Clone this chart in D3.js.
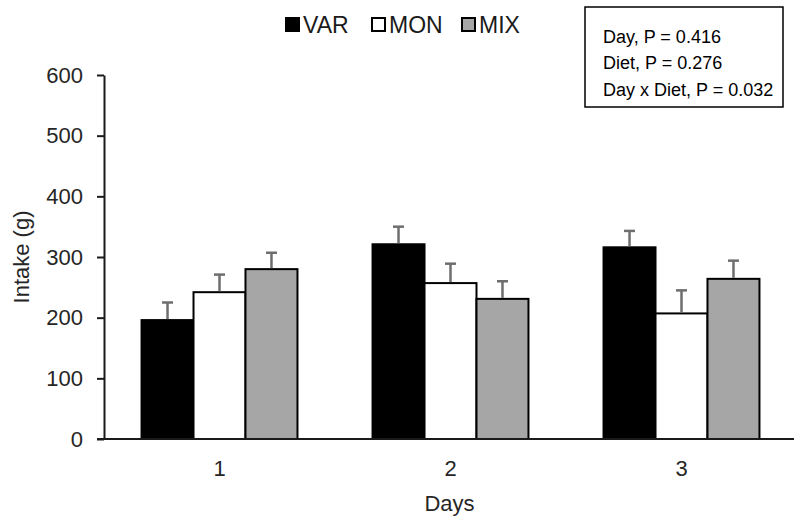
<!DOCTYPE html>
<html>
<head>
<meta charset="utf-8">
<script src="https://cdn.jsdelivr.net/npm/d3@7"></script>
<style>
  html, body { margin: 0; padding: 0; background: #fff; }
  svg { display: block; }
  text { font-family: "Liberation Sans", Arial, sans-serif; }
</style>
</head>
<body>
<svg id="chart" width="794" height="523"></svg>
<script>
// ---- data ----
const days = ["1", "2", "3"];
const series = ["VAR", "MON", "MIX"];
const VAR = [196, 321, 316];
const MON = [242, 257, 207];
const MIX = [280, 231, 264];
const VAR_err = [29, 29, 27];
const MON_err = [29, 32, 38];
const MIX_err = [27, 29, 30];
const yTicks = [0, 100, 200, 300, 400, 500, 600];
const stats = ["Day, P = 0.416", "Diet, P = 0.276", "Day x Diet, P = 0.032"];
const xTitle = "Days";
const yTitle = "Intake (g)";

const values = { VAR, MON, MIX };
const errors = { VAR: VAR_err, MON: MON_err, MIX: MIX_err };
const fills = { VAR: "#000000", MON: "#ffffff", MIX: "#a6a6a6" };

const svg = d3.select("#chart");
const mLeft = 104, mRight = 797, mTop = 75, mBottom = 439;

const x0 = d3.scaleBand().domain(days).range([mLeft, mRight])
  .paddingInner(0.325).paddingOuter(0.1625);
const x1 = d3.scaleBand().domain(series).range([0, x0.bandwidth()]).padding(0);
const y = d3.scaleLinear().domain([0, 600]).range([mBottom, mTop]);

// bars
const rows = [];
days.forEach((d, i) => series.forEach(s => rows.push({ day: d, s, v: values[s][i], e: errors[s][i] })));

svg.append("g").selectAll("rect").data(rows).join("rect")
  .attr("x", d => x0(d.day) + x1(d.s))
  .attr("y", d => y(d.v))
  .attr("width", x1.bandwidth())
  .attr("height", d => y(0) - y(d.v))
  .attr("fill", d => fills[d.s])
  .attr("stroke", "#000")
  .attr("stroke-width", 2);

// error bars (upper only)
const eg = svg.append("g").attr("stroke", "#6e6e6e").attr("stroke-width", 2.5);
rows.forEach(d => {
  const cx = x0(d.day) + x1(d.s) + x1.bandwidth() / 2;
  eg.append("line").attr("x1", cx).attr("x2", cx).attr("y1", y(d.v) - 1).attr("y2", y(d.v + d.e));
  eg.append("line").attr("x1", cx - 5.5).attr("x2", cx + 5.5).attr("y1", y(d.v + d.e)).attr("y2", y(d.v + d.e));
});

// y axis
const yAxis = svg.append("g").attr("transform", `translate(${mLeft},0)`)
  .call(d3.axisLeft(y).tickValues(yTicks).tickSize(7).tickPadding(14).tickSizeOuter(0));
yAxis.select(".domain").attr("stroke", "#1a1a1a").attr("stroke-width", 2);
yAxis.selectAll(".tick line").attr("stroke", "#1a1a1a").attr("stroke-width", 2);
yAxis.selectAll("text").attr("font-size", 22).attr("fill", "#262626")
  .attr("font-family", "Liberation Sans, Arial, sans-serif");

// x axis
const xAxis = svg.append("g").attr("transform", `translate(0,${mBottom})`)
  .call(d3.axisBottom(x0).tickSize(0).tickPadding(21));
xAxis.select(".domain").remove();
xAxis.selectAll("text").attr("font-size", 22).attr("fill", "#262626")
  .attr("font-family", "Liberation Sans, Arial, sans-serif");
svg.append("line").attr("x1", mLeft - 7).attr("x2", mRight).attr("y1", mBottom).attr("y2", mBottom)
  .attr("stroke", "#1a1a1a").attr("stroke-width", 2);

// axis titles
svg.append("text").attr("x", (mLeft + mRight) / 2 - 1).attr("y", 511)
  .attr("text-anchor", "middle").attr("font-size", 22).attr("fill", "#262626").text(xTitle);
svg.append("text").attr("transform", `translate(29,${(mTop + mBottom) / 2}) rotate(-90)`)
  .attr("text-anchor", "middle").attr("font-size", 22).attr("fill", "#262626").text(yTitle);

// legend
const legX = [285, 371, 461];
const lg = svg.append("g");
series.forEach((s, i) => {
  lg.append("rect").attr("x", legX[i] + 1).attr("y", 18).attr("width", 13).attr("height", 13)
    .attr("fill", fills[s]).attr("stroke", "#000").attr("stroke-width", 2);
  lg.append("text").attr("x", legX[i] + 18).attr("y", 33).attr("font-size", 23)
    .attr("fill", "#1a1a1a").text(s);
});

// stats box
svg.append("rect").attr("x", 585).attr("y", 7).attr("width", 198).attr("height", 100)
  .attr("fill", "#fff").attr("stroke", "#000").attr("stroke-width", 1.5);
stats.forEach((t, i) => {
  svg.append("text").attr("x", 603).attr("y", 42.5 + i * 26.7)
    .attr("font-size", 18).attr("fill", "#000").text(t);
});
</script>
</body>
</html>
